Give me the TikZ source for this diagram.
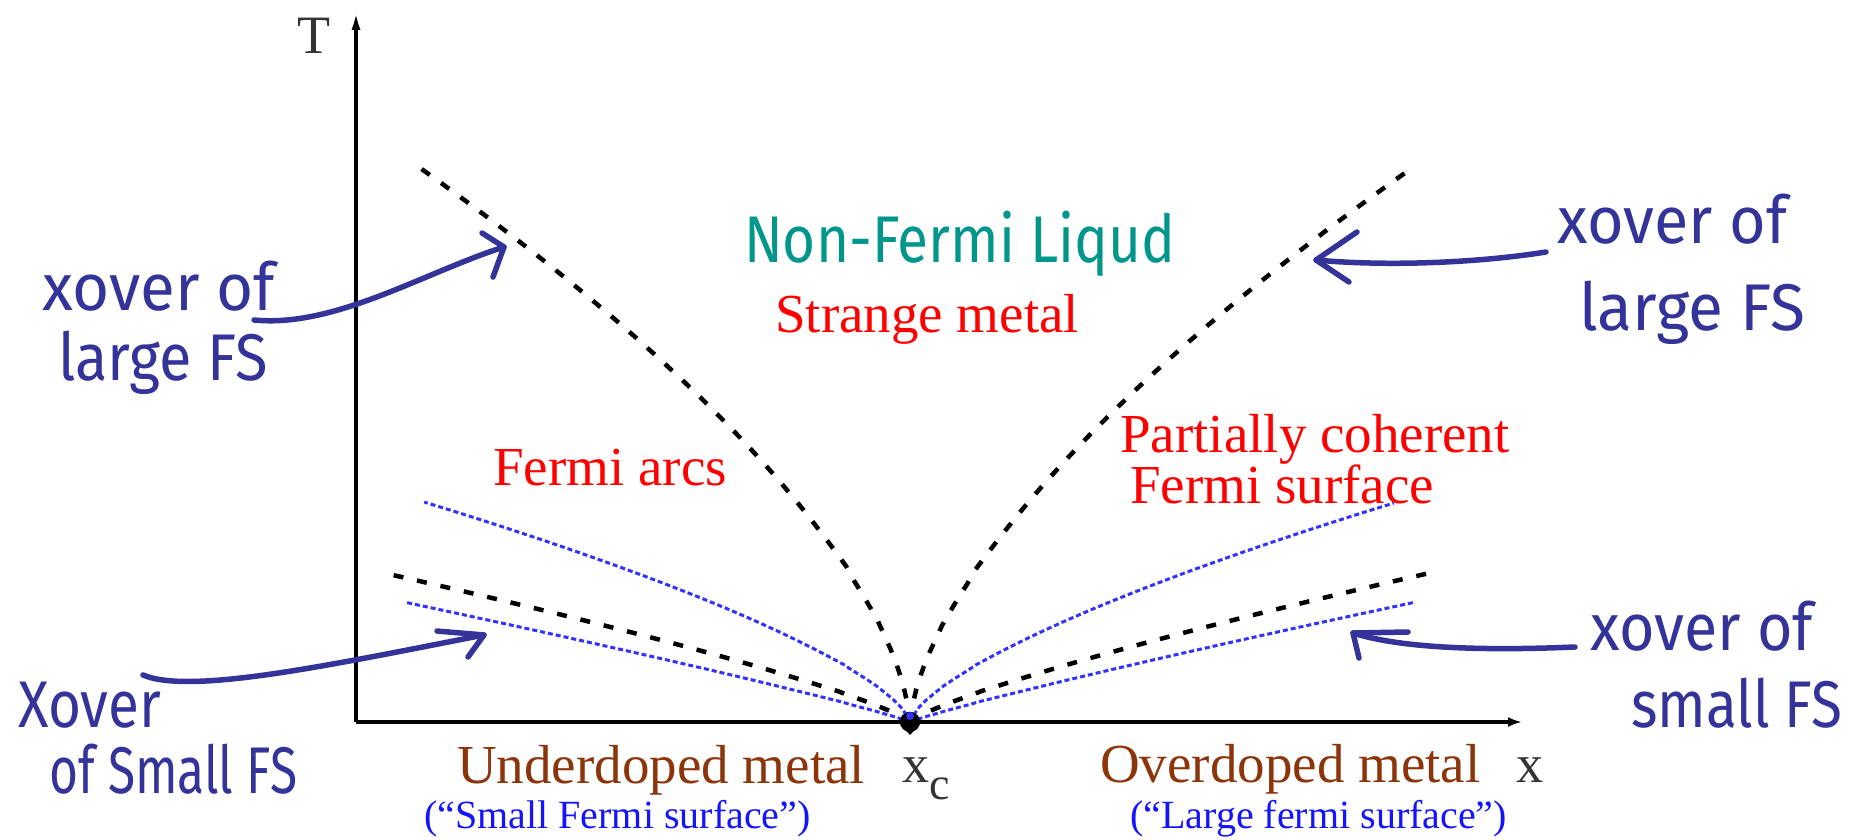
\documentclass[tikz,border=0pt]{standalone}
\usepackage{fontspec}
\setmainfont{Liberation Serif}
\newfontfamily\handfont{Fira Sans}
\usetikzlibrary{arrows.meta}
\definecolor{hand}{RGB}{51,51,153}
\definecolor{nfl}{RGB}{0,150,140}
\definecolor{brownlab}{RGB}{140,52,10}
\definecolor{bluelab}{RGB}{20,20,255}
\definecolor{dotblue}{RGB}{50,50,255}
\newcommand{\hw}[2]{\resizebox{#1pt}{\height}{#2}}
\begin{document}
\begin{tikzpicture}[x=1pt,y=-1pt,
  lab/.style={font=\fontsize{55}{60}\selectfont, inner sep=0pt, anchor=base west},
  redlab/.style={lab, text=red},
  brownl/.style={lab, text=brownlab},
  smalll/.style={inner sep=0pt, anchor=base west, text=bluelab, font=\fontsize{40}{46}\selectfont},
  axislab/.style={lab, text=black!80, font=\fontsize{54}{60}\selectfont},
  handtxt/.style={inner sep=0pt, anchor=base west, text=hand, font=\handfont\fontsize{66}{70}\selectfont},
  handarrow/.style={draw=hand, line width=5.5pt, line cap=round, line join=round},
  bigdash/.style={line width=4.5pt, dash pattern=on 10pt off 14pt},
  bluedot/.style={draw=dotblue, line width=3pt, dash pattern=on 5pt off 3pt},
  axisline/.style={line width=3.5pt}
]
\useasboundingbox[fill=white] (0,0) rectangle (1863,840);

% axes
\coordinate (O) at (356,722);
\coordinate (Ttop) at (356,11);
\coordinate (Xend) at (1522,722);
\coordinate (xc) at (910,722);
\draw[axisline, -{Latex[length=19pt,width=9pt]}] (O) -- (Ttop);
\draw[axisline, -{Latex[length=14pt,width=10pt]}] (O) -- (Xend);

% black dashed crossover curves
\draw[bigdash] (xc) -- plot[domain=0.002:1, samples=80] ({910-497*\x},{722-559*(\x)^0.63});
\draw[bigdash] (xc) -- plot[domain=0.002:1, samples=80] ({910+495*\x},{722-549*(\x)^0.64});
\draw[bigdash] (xc) -- plot[domain=0.002:1, samples=60] ({910-526*\x},{722-149*(\x)^0.8});
\draw[bigdash] (xc) -- plot[domain=0.002:1, samples=60] ({910+524*\x},{722-150*(\x)^0.8});

% blue dotted lines
\draw[bluedot] (xc) -- plot[domain=0.002:1, samples=60] ({910-486*\x},{722-220*(\x)^0.68});
\draw[bluedot] (xc) -- plot[domain=0.002:1, samples=60] ({910+484*\x},{722-219*(\x)^0.68});
\draw[bluedot] (xc) -- plot[domain=0.002:1, samples=60] ({910-506*\x},{722-120*(\x)^0.9});
\draw[bluedot] (xc) -- plot[domain=0.002:1, samples=60] ({910+506*\x},{722-120*(\x)^0.9});

% critical point
\fill[black] (xc) circle (10pt);
\fill[black] (900,724) -- (920,724) -- (910,735) -- cycle;
\fill[dotblue] (910,716) circle (4pt);

% axis labels
\node[axislab] (Tlab) at (297,54) {T};
\node[axislab] (xlab) at (1516,782) {x};
\node[axislab] (xclab) at (902,782) {x\raisebox{-0.32em}{\fontsize{46}{50}\selectfont c}};

% region labels
\node[text=nfl, inner sep=0pt, anchor=base west, font=\handfont\fontsize{66}{70}\selectfont] (nfl) at (744,262) {\hw{431}{Non-Fermi Liqud}};
\node[redlab] (strange) at (775,332) {Strange metal};
\node[redlab] (arcs) at (493,485) {Fermi arcs};
\node[redlab] (pc1) at (1120,452) {Partially coherent};
\node[redlab] (pc2) at (1130,503) {Fermi surface};
\node[brownl] (under) at (457,783) {Underdoped metal};
\node[brownl] (over) at (1100,782) {Overdoped metal};
\node[smalll] (smallfs) at (424,828) {(``Small Fermi surface'')};
\node[smalll] (largefs) at (1130,828) {(``Large fermi surface'')};

% handwritten annotations
\node[handtxt] (h1a) at (42,310) {\hw{233}{xover of}};
\node[handtxt] (h1b) at (58,380) {\hw{210}{large FS}};
\node[handtxt] (h2a) at (1557,243) {\hw{230}{xover of}};
\node[handtxt] (h2b) at (1579,330) {\hw{226}{large FS}};
\node[handtxt] (h3a) at (18,727) {\hw{143}{Xover}};
\node[handtxt] (h3b) at (49,793) {\hw{248}{of Small FS}};
\node[handtxt] (h4a) at (1590,650) {\hw{223}{xover of}};
\node[handtxt] (h4b) at (1631,727) {\hw{211}{small FS}};

% handwritten arrows
\coordinate (a1t) at (254,320); \coordinate (a1h) at (504,247);
\coordinate (a1b1) at (482,233); \coordinate (a1b2) at (493,277);
\draw[handarrow] (a1t) .. controls (335,328) and (425,272) .. (a1h);
\draw[handarrow] (a1b1) -- (a1h) -- (a1b2);

\coordinate (a2t) at (1546,252); \coordinate (a2h) at (1316,260);
\coordinate (a2b1) at (1357,232); \coordinate (a2b2) at (1349,282);
\draw[handarrow] (a2t) .. controls (1470,264) and (1380,266) .. (a2h);
\draw[handarrow] (a2b1) -- (a2h) -- (a2b2);

\coordinate (a3t) at (143,675); \coordinate (a3h) at (484,635);
\coordinate (a3b1) at (437,631); \coordinate (a3b2) at (468,657);
\draw[handarrow] (a3t) .. controls (190,695) and (330,665) .. (a3h);
\draw[handarrow] (a3b1) -- (a3h) -- (a3b2);

\coordinate (a4t) at (1575,647); \coordinate (a4h) at (1353,633);
\coordinate (a4b1) at (1408,632); \coordinate (a4b2) at (1359,658);
\draw[handarrow] (a4t) .. controls (1480,651) and (1400,648) .. (a4h);
\draw[handarrow] (a4b1) -- (a4h) -- (a4b2);
\end{tikzpicture}
\end{document}
